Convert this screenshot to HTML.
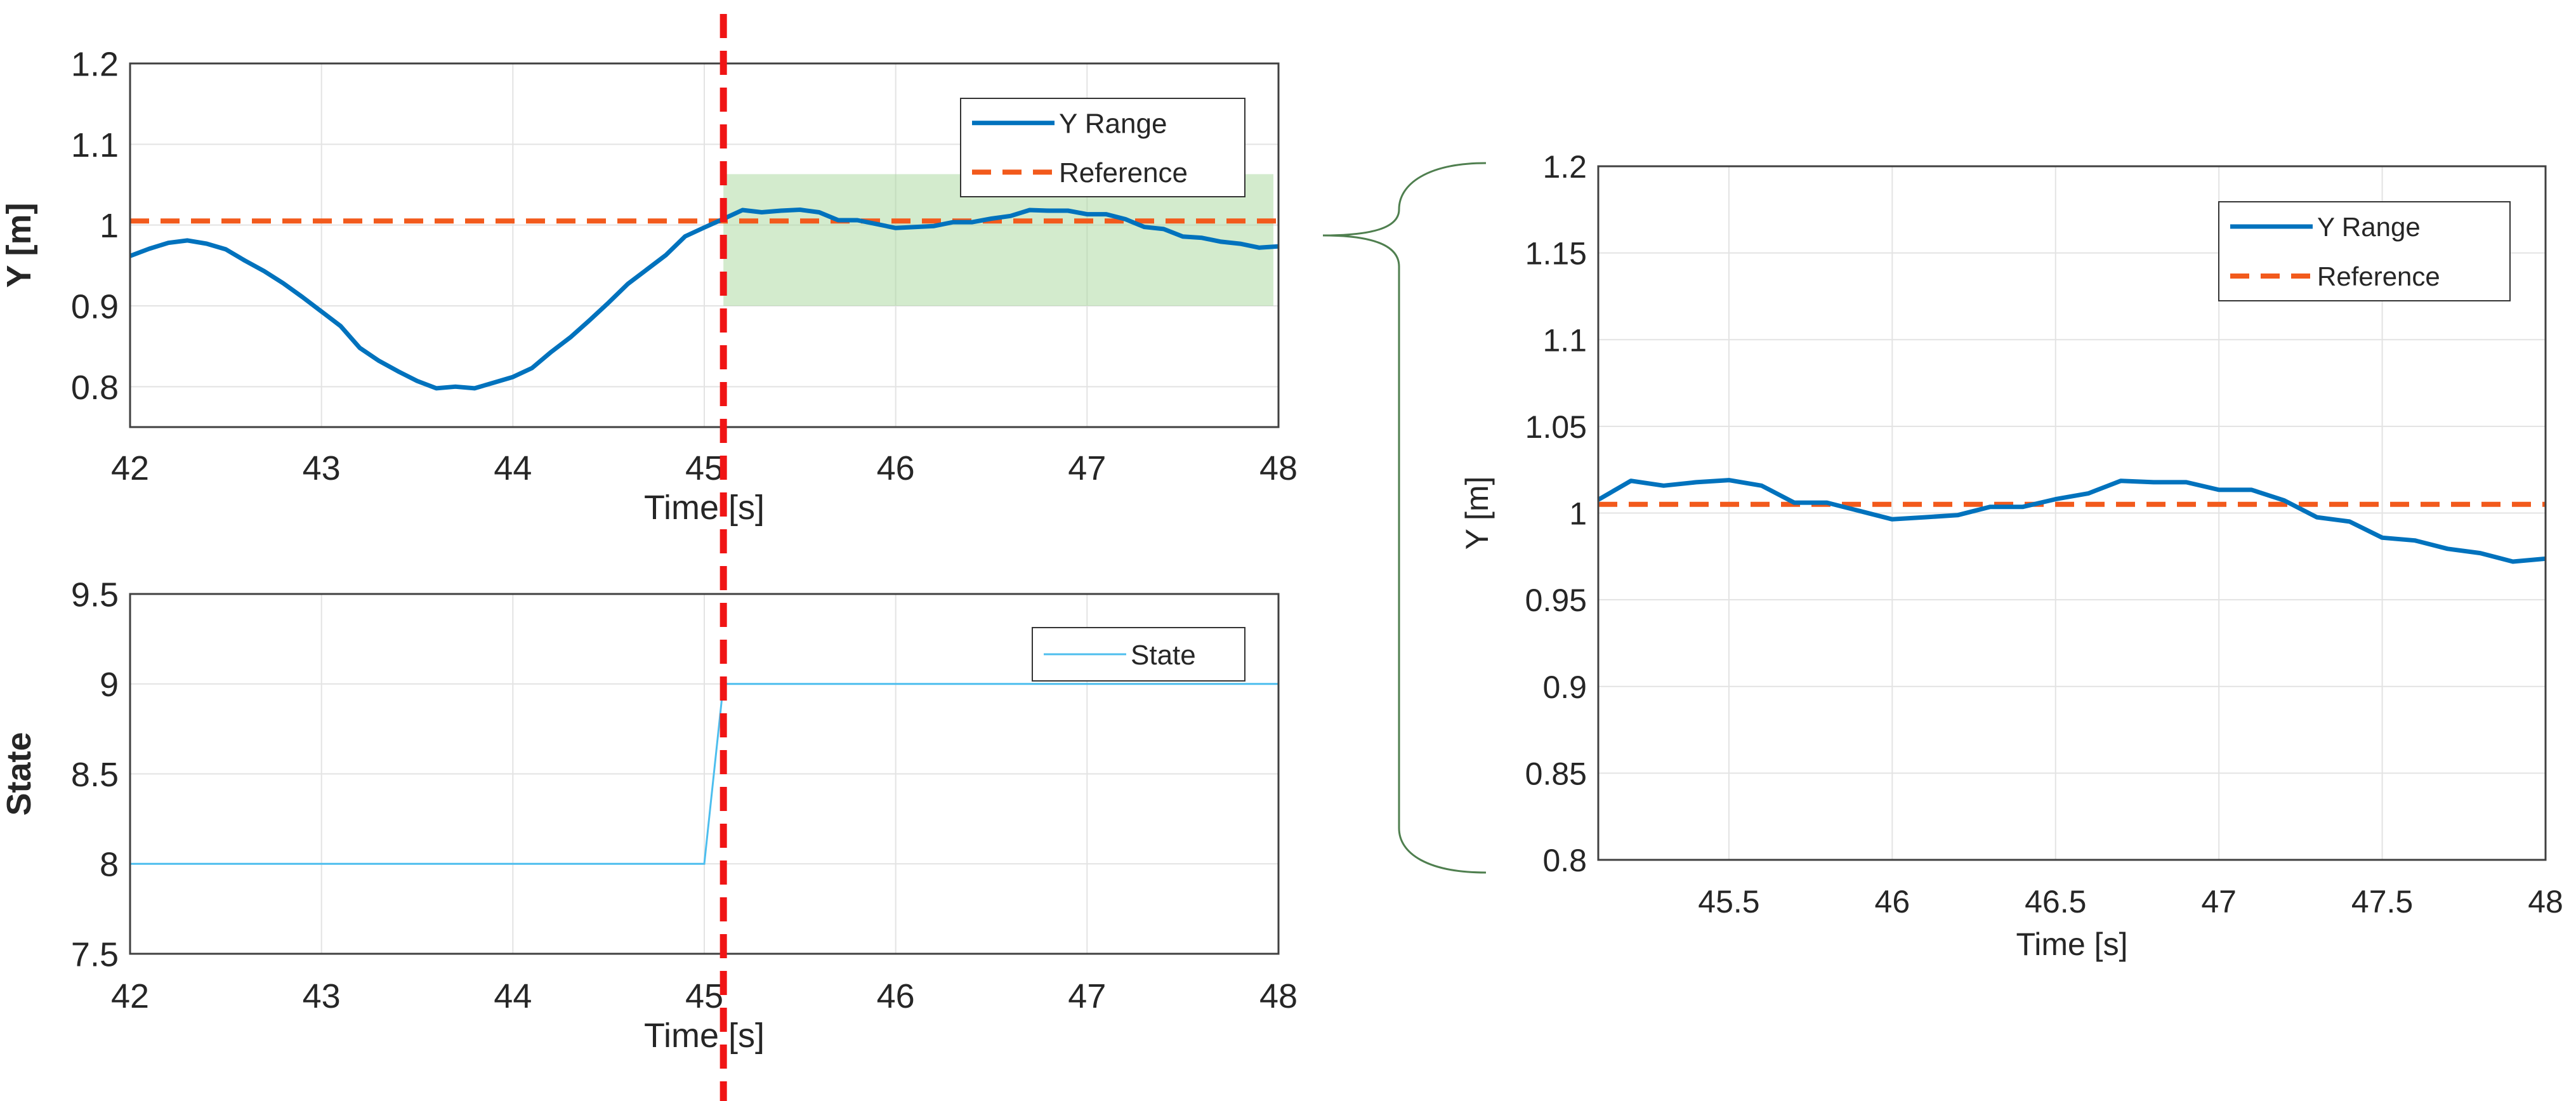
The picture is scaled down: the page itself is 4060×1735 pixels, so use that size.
<!DOCTYPE html>
<html><head><meta charset="utf-8"><style>
html,body{margin:0;padding:0;background:#fff;}
svg{display:block;}
text{font-family:"Liberation Sans",Arial,sans-serif;fill:#262626;}
</style></head>
<body>
<svg id="fig" width="4060" height="1735" viewBox="0 0 4060 1735" xmlns="http://www.w3.org/2000/svg"></svg>
<script>
const leftTimes=[42,42.1,42.2,42.3,42.4,42.5,42.6,42.7,42.8,42.9,43,43.1,43.2,43.3,43.4,43.5,43.6,43.7,43.8,43.9,44,44.1,44.2,44.3,44.4,44.5,44.6,44.7,44.8,44.9,45];
const leftY=[0.9617,0.9707,0.978,0.981,0.977,0.970,0.956,0.943,0.928,0.911,0.893,0.875,0.848,0.832,0.819,0.807,0.798,0.800,0.798,0.805,0.812,0.823,0.843,0.861,0.882,0.904,0.927,0.945,0.963,0.986,0.997];
const zoomTimes=[45.1,45.2,45.3,45.4,45.5,45.6,45.7,45.8,45.9,46,46.1,46.2,46.3,46.4,46.5,46.6,46.7,46.8,46.9,47,47.1,47.2,47.3,47.4,47.5,47.6,47.7,47.8,47.9,48];
const zoomY=[1.0077,1.0186,1.0158,1.0178,1.019,1.0158,1.006,1.006,1.0012,0.9964,0.9976,0.9988,1.0036,1.0036,1.008,1.0113,1.0186,1.0178,1.0178,1.0134,1.0134,1.0073,0.9976,0.9951,0.9858,0.9842,0.9794,0.9769,0.972,0.9737];
const referenceValue=1.005;
const stateTimes=[42,45,45.1,48];
const stateValues=[8,8,9,9];
const eventTime=45.1;
const bandRange=[0.9,1.063];
const xTicksLeft=[42,43,44,45,46,47,48];
const yTicksTop=[0.8,0.9,1,1.1,1.2];
const yTicksState=[7.5,8,8.5,9,9.5];
const xTicksZoom=[45.5,46,46.5,47,47.5,48];
const yTicksZoom=[0.8,0.85,0.9,0.95,1,1.05,1.1,1.15,1.2];

const NS='http://www.w3.org/2000/svg';
const svg=document.getElementById('fig');
function el(tag,attrs,parent){const e=document.createElementNS(NS,tag);for(const k in attrs)e.setAttribute(k,attrs[k]);(parent||svg).appendChild(e);return e;}
function scale(d0,d1,r0,r1){return v=>r0+(v-d0)/(d1-d0)*(r1-r0);}

function axes(name,box,xd,yd,xt,yt,fs,xlabel,ylabel,ylabelX,xlabY,tickY,ylabelBold){
  const g=el('g',{});
  
  
  const X=scale(xd[0],xd[1],box.l,box.r),Y=scale(yd[0],yd[1],box.b,box.t);
  el('rect',{x:box.l,y:box.t,width:box.r-box.l,height:box.b-box.t,fill:'#fff'},g);
  const grid=el('g',{},g);
  
  
  xt.forEach(v=>{el('line',{x1:X(v),x2:X(v),y1:box.t,y2:box.b,stroke:'#e3e3e3','stroke-width':2},grid);});
  yt.forEach(v=>{el('line',{x1:box.l,x2:box.r,y1:Y(v),y2:Y(v),stroke:'#e3e3e3','stroke-width':2},grid);});
  xt.forEach(v=>{const t=el('text',{x:X(v),y:tickY,'text-anchor':'middle','font-size':fs},g);t.textContent=String(v);
    });
  yt.forEach(v=>{const t=el('text',{x:box.l-18,y:Y(v)+fs*0.36,'text-anchor':'end','font-size':fs},g);t.textContent=String(v);
    });
  const xl=el('text',{x:(box.l+box.r)/2,y:xlabY,'text-anchor':'middle','font-size':fs},g);xl.textContent=xlabel;
  
  const yc=(box.t+box.b)/2;
  const yl=el('text',{x:ylabelX,y:yc,'text-anchor':'middle','font-size':fs,'font-weight':ylabelBold?'bold':'normal',transform:`rotate(-90 ${ylabelX} ${yc})`},g);yl.textContent=ylabel;
  
  return {g,X,Y,box};
}
function frame(a){el('rect',{x:a.box.l,y:a.box.t,width:a.box.r-a.box.l,height:a.box.b-a.box.t,fill:'none',stroke:'#404040','stroke-width':3},a.g);}
function path(a,xs,ys,attrs,name){const d=xs.map((x,i)=>(i?'L':'M')+a.X(x).toFixed(1)+' '+a.Y(ys[i]).toFixed(1)).join(' ');
  const p=el('path',Object.assign({d,fill:'none'},attrs),a.g);return p;}
function legend(a,x,y,w,h,items,fs){
  const g=el('g',{},a.g);
  
  
  el('rect',{x,y,width:w,height:h,fill:'#fff',stroke:'#333','stroke-width':2},g);
  const step=h/items.length;
  items.forEach((it,i)=>{const cy=y+step*(i+0.5);
    el('line',Object.assign({x1:x+18,x2:x+148,y1:cy,y2:cy},it.style),g);
    const t=el('text',{x:x+155,y:cy+fs*0.36,'font-size':fs},g);t.textContent=it.label;
    });
}
const blue={stroke:'#0072BD','stroke-width':7,'stroke-linejoin':'round'};
const orange={stroke:'#F25A1C','stroke-width':8,'stroke-dasharray':'30 18'};

// Top plot
const A=axes('y-range-plot',{l:205,r:2015,t:100,b:673},[42,48],[0.75,1.2],xTicksLeft,yTicksTop,54,'Time [s]','Y [m]',48,818,756,true);
const band=el('rect',{x:A.X(eventTime),y:A.Y(bandRange[1]),width:A.X(48)-A.X(eventTime)-8,height:A.Y(bandRange[0])-A.Y(bandRange[1]),fill:'#a8d89c','fill-opacity':0.5},A.g);


path(A,[42,48],[referenceValue,referenceValue],orange,'reference-line');
path(A,leftTimes.concat(zoomTimes),leftY.concat(zoomY),blue,'y-range-line');
frame(A);
legend(A,1514,155,448,155,[{label:'Y Range',style:blue},{label:'Reference',style:orange}],44);

// Bottom plot
const B=axes('state-plot',{l:205,r:2015,t:936,b:1503},[42,48],[7.5,9.5],xTicksLeft,yTicksState,54,'Time [s]','State',48,1650,1588,true);
path(B,stateTimes,stateValues,{stroke:'#4DBEEE','stroke-width':3},'state-line');
frame(B);
legend(B,1627,989,335,84,[{label:'State',style:{stroke:'#4DBEEE','stroke-width':3}}],44);

// Right zoom plot
const C=axes('zoom-plot',{l:2519,r:4012,t:262,b:1355},[45.1,48],[0.8,1.2],xTicksZoom,yTicksZoom,50,'Time [s]','Y [m]',2345,1505,1438,false);
path(C,[45.1,48],[referenceValue,referenceValue],orange,'zoom-reference-line');
path(C,zoomTimes,zoomY,blue,'zoom-y-range-line');
frame(C);
legend(C,3497,318,459,156,[{label:'Y Range',style:blue},{label:'Reference',style:orange}],42);

// Event vertical line
const vl=el('line',{x1:A.X(eventTime),x2:A.X(eventTime),y1:22,y2:1735,stroke:'#F01515','stroke-width':11,'stroke-dasharray':'38 20'});



// Brace
const br=el('path',{d:'M2342 257 C2250 257 2205 290 2205 330 C2205 360 2160 371 2085 371 C2160 371 2205 385 2205 420 L2205 1305 C2205 1345 2250 1375 2342 1375',fill:'none',stroke:'#4f7f4f','stroke-width':3});


</script>
</body></html>
